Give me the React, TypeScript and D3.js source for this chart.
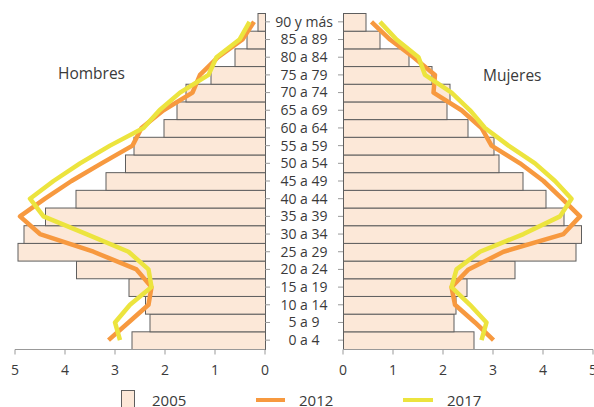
import * as d3 from "d3";
import React, { useLayoutEffect, useRef } from "react";

const ages = [
  "0 a 4", "5 a 9", "10 a 14", "15 a 19", "20 a 24", "25 a 29", "30 a 34",
  "35 a 39", "40 a 44", "45 a 49", "50 a 54", "55 a 59", "60 a 64", "65 a 69",
  "70 a 74", "75 a 79", "80 a 84", "85 a 89", "90 y más",
];

// porcentajes, de 0 a 4 hacia arriba
const hombres2005 = [2.67, 2.31, 2.4, 2.73, 3.78, 4.95, 4.83, 4.4, 3.79, 3.19, 2.8, 2.63, 2.03, 1.77, 1.59, 1.09, 0.61, 0.37, 0.15];
const mujeres2005 = [2.61, 2.21, 2.25, 2.47, 3.43, 4.65, 4.76, 4.41, 4.05, 3.59, 3.11, 3.01, 2.49, 2.07, 2.13, 1.77, 1.31, 0.73, 0.45];
const hombres2012 = [3.13, 2.73, 2.33, 2.27, 2.57, 3.43, 4.5, 4.9, 4.4, 3.87, 3.27, 2.65, 2.47, 2.03, 1.45, 1.3, 0.94, 0.45, 0.22];
const mujeres2012 = [3.01, 2.64, 2.24, 2.17, 2.51, 3.21, 4.41, 4.74, 4.38, 4.01, 3.54, 2.97, 2.77, 2.37, 1.81, 1.84, 1.41, 0.94, 0.57];
const hombres2017 = [2.9, 3.0, 2.7, 2.27, 2.33, 2.73, 3.57, 4.43, 4.7, 4.23, 3.7, 3.1, 2.43, 2.11, 1.7, 1.13, 0.97, 0.51, 0.31];
const mujeres2017 = [2.77, 2.87, 2.54, 2.17, 2.27, 2.74, 3.61, 4.34, 4.57, 4.24, 3.84, 3.31, 2.84, 2.54, 2.17, 1.64, 1.51, 1.07, 0.74];

const ticks = [0, 1, 2, 3, 4, 5];
const years = ["2005", "2012", "2017"];

const FILL = "#fce8d8";
const EDGE = "#5e5e5e";
const ORANGE = "#f7993f";
const YELLOW = "#ece43e";
const TEXT = "#3a3a3a";
const FONT = "'Open Sans', 'Noto Sans', sans-serif";

const App: React.FC = () => {
  const ref = useRef<SVGSVGElement>(null);

  useLayoutEffect(() => {
    const svg = d3.select(ref.current);
    const g = svg.append("g").attr("font-family", FONT);

    const y = d3.scaleBand<string>().domain([...ages].reverse()).range([13, 349]).padding(0);
    const xL = d3.scaleLinear().domain([0, 5]).range([265, 15]);
    const xR = d3.scaleLinear().domain([0, 5]).range([343, 593]);
    const axisY = 349.5;
    const cy = (i: number) => (y(ages[i]) as number) + y.bandwidth() / 2;

    // barras 2005
    g.append("g")
      .selectAll("rect")
      .data(hombres2005)
      .join("rect")
      .attr("x", (d) => xL(d) + 0.5)
      .attr("y", (_, i) => (y(ages[i]) as number) + 0.5)
      .attr("width", (d) => xL(0) - xL(d))
      .attr("height", y.bandwidth())
      .attr("fill", FILL)
      .attr("stroke", EDGE)
      .attr("stroke-width", 1);

    g.append("g")
      .selectAll("rect")
      .data(mujeres2005)
      .join("rect")
      .attr("x", xR(0) + 0.5)
      .attr("y", (_, i) => (y(ages[i]) as number) + 0.5)
      .attr("width", (d) => xR(d) - xR(0))
      .attr("height", y.bandwidth())
      .attr("fill", FILL)
      .attr("stroke", EDGE)
      .attr("stroke-width", 1);

    // etiquetas de edad y marcas
    const lab = g.append("g");
    ages.forEach((a, i) => {
      lab.append("line").attr("x1", 265).attr("x2", 270).attr("y1", cy(i)).attr("y2", cy(i)).attr("stroke", "#999");
      lab.append("line").attr("x1", 338).attr("x2", 343).attr("y1", cy(i)).attr("y2", cy(i)).attr("stroke", "#999");
      lab.append("text")
        .attr("x", 304)
        .attr("y", cy(i))
        .attr("dy", "0.35em")
        .attr("text-anchor", "middle")
        .attr("font-size", 14)
        .attr("fill", TEXT)
        .text(a);
    });

    // líneas
    const lineL = d3.line<number>().x((d) => xL(d)).y((_, i) => cy(i));
    const lineR = d3.line<number>().x((d) => xR(d)).y((_, i) => cy(i));
    const series: [number[], number[], string][] = [
      [hombres2012, mujeres2012, ORANGE],
      [hombres2017, mujeres2017, YELLOW],
    ];
    series.forEach(([h, m, c]) => {
      g.append("path").attr("d", lineL(h)).attr("fill", "none").attr("stroke", c).attr("stroke-width", 4.5).attr("stroke-linejoin", "round");
      g.append("path").attr("d", lineR(m)).attr("fill", "none").attr("stroke", c).attr("stroke-width", 4.5).attr("stroke-linejoin", "round");
    });

    // ejes inferiores
    [xL, xR].forEach((x) => {
      const ax = g.append("g");
      ax.append("line").attr("x1", x(0)).attr("x2", x(5)).attr("y1", axisY).attr("y2", axisY).attr("stroke", "#999");
      ticks.forEach((t) => {
        ax.append("line").attr("x1", x(t)).attr("x2", x(t)).attr("y1", axisY).attr("y2", axisY + 5).attr("stroke", "#999");
        ax.append("text")
          .attr("x", x(t))
          .attr("y", 375)
          .attr("text-anchor", "middle")
          .attr("font-size", 14)
          .attr("fill", TEXT)
          .text(t);
      });
    });

    g.append("text").attr("x", 58).attr("y", 79).attr("font-size", 15.5).attr("fill", TEXT).text("Hombres");
    g.append("text").attr("x", 483).attr("y", 81).attr("font-size", 15.5).attr("fill", TEXT).text("Mujeres");

    // leyenda
    const leg = g.append("g");
    leg.append("rect").attr("x", 121.5).attr("y", 390.5).attr("width", 13).attr("height", 24).attr("fill", FILL).attr("stroke", EDGE);
    leg.append("line").attr("x1", 256).attr("x2", 285).attr("y1", 400).attr("y2", 400).attr("stroke", ORANGE).attr("stroke-width", 4);
    leg.append("line").attr("x1", 403).attr("x2", 433).attr("y1", 400).attr("y2", 400).attr("stroke", YELLOW).attr("stroke-width", 4);
    [152, 299, 447].forEach((x, i) => {
      leg.append("text").attr("x", x).attr("y", 406).attr("font-size", 15).attr("fill", TEXT).text(years[i]);
    });

    return () => {
      svg.selectAll("*").remove();
    };
  }, []);

  return (
    <svg
      ref={ref}
      width={594}
      height={407}
      style={{ position: "absolute", left: 0, top: 0, background: "#fff" }}
    />
  );
};

export default App;
